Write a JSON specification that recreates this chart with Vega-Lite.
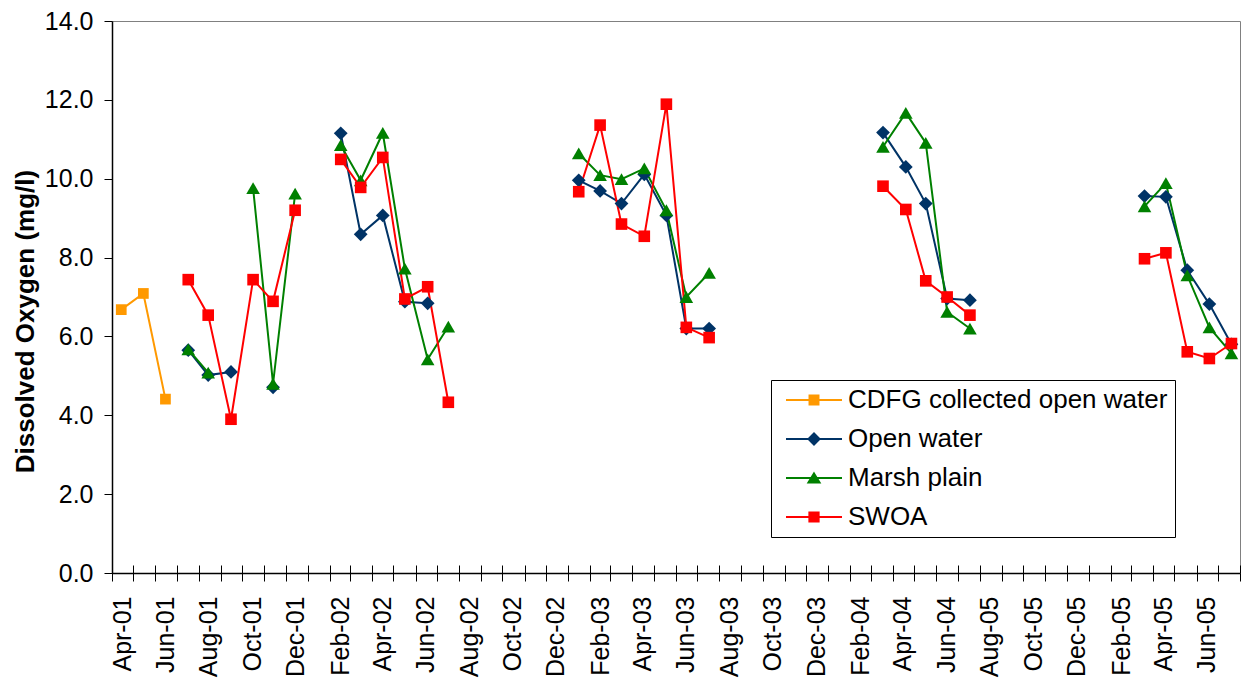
{
  "$schema": "https://vega.github.io/schema/vega-lite/v6.json",
  "width": 1128,
  "height": 552,
  "autosize": {"type": "none"},
  "padding": {"left": 112, "top": 21, "right": 6, "bottom": 106},
  "background": "white",
  "config": {
    "font": "Liberation Sans",
    "view": {"stroke": "#808080", "strokeWidth": 1}
  },
  "data": {
    "values": [
      {"date": "2001-04-14", "series": "CDFG collected open water", "value": 6.68},
      {"date": "2001-05-15", "series": "CDFG collected open water", "value": 7.09},
      {"date": "2001-06-15", "series": "CDFG collected open water", "value": 4.41},

      {"date": "2001-07-17", "series": "Open water", "value": 5.65},
      {"date": "2001-08-14", "series": "Open water", "value": 5.02},
      {"date": "2001-09-15", "series": "Open water", "value": 5.10},
      {"date": "2001-10-16", "series": "Open water", "value": null},
      {"date": "2001-11-13", "series": "Open water", "value": 4.71},
      {"date": "2002-01-15", "series": "Open water", "value": null},
      {"date": "2002-02-16", "series": "Open water", "value": 11.15},
      {"date": "2002-03-16", "series": "Open water", "value": 8.59},
      {"date": "2002-04-16", "series": "Open water", "value": 9.07},
      {"date": "2002-05-17", "series": "Open water", "value": 6.88},
      {"date": "2002-06-18", "series": "Open water", "value": 6.84},
      {"date": "2002-10-15", "series": "Open water", "value": null},
      {"date": "2003-01-16", "series": "Open water", "value": 9.96},
      {"date": "2003-02-15", "series": "Open water", "value": 9.69},
      {"date": "2003-03-17", "series": "Open water", "value": 9.37},
      {"date": "2003-04-18", "series": "Open water", "value": 10.11},
      {"date": "2003-05-19", "series": "Open water", "value": 9.07},
      {"date": "2003-06-16", "series": "Open water", "value": 6.20},
      {"date": "2003-07-18", "series": "Open water", "value": 6.20},
      {"date": "2003-12-15", "series": "Open water", "value": null},
      {"date": "2004-03-18", "series": "Open water", "value": 11.17},
      {"date": "2004-04-19", "series": "Open water", "value": 10.30},
      {"date": "2004-05-17", "series": "Open water", "value": 9.37},
      {"date": "2004-06-16", "series": "Open water", "value": 6.96},
      {"date": "2004-07-18", "series": "Open water", "value": 6.92},
      {"date": "2004-12-15", "series": "Open water", "value": null},
      {"date": "2005-03-20", "series": "Open water", "value": 9.56},
      {"date": "2005-04-19", "series": "Open water", "value": 9.54},
      {"date": "2005-05-19", "series": "Open water", "value": 7.68},
      {"date": "2005-06-19", "series": "Open water", "value": 6.82},
      {"date": "2005-07-20", "series": "Open water", "value": 5.80},

      {"date": "2001-07-17", "series": "Marsh plain", "value": 5.67},
      {"date": "2001-08-14", "series": "Marsh plain", "value": 5.08},
      {"date": "2001-09-15", "series": "Marsh plain", "value": null},
      {"date": "2001-10-16", "series": "Marsh plain", "value": 9.76},
      {"date": "2001-11-13", "series": "Marsh plain", "value": 4.80},
      {"date": "2001-12-14", "series": "Marsh plain", "value": 9.62},
      {"date": "2002-01-15", "series": "Marsh plain", "value": null},
      {"date": "2002-02-16", "series": "Marsh plain", "value": 10.85},
      {"date": "2002-03-16", "series": "Marsh plain", "value": 9.96},
      {"date": "2002-04-16", "series": "Marsh plain", "value": 11.16},
      {"date": "2002-05-17", "series": "Marsh plain", "value": 7.72},
      {"date": "2002-06-18", "series": "Marsh plain", "value": 5.42},
      {"date": "2002-07-17", "series": "Marsh plain", "value": 6.25},
      {"date": "2002-10-15", "series": "Marsh plain", "value": null},
      {"date": "2003-01-16", "series": "Marsh plain", "value": 10.64},
      {"date": "2003-02-15", "series": "Marsh plain", "value": 10.09},
      {"date": "2003-03-17", "series": "Marsh plain", "value": 9.99},
      {"date": "2003-04-18", "series": "Marsh plain", "value": 10.26},
      {"date": "2003-05-19", "series": "Marsh plain", "value": 9.20},
      {"date": "2003-06-16", "series": "Marsh plain", "value": 7.00},
      {"date": "2003-07-18", "series": "Marsh plain", "value": 7.61},
      {"date": "2003-12-15", "series": "Marsh plain", "value": null},
      {"date": "2004-03-18", "series": "Marsh plain", "value": 10.81},
      {"date": "2004-04-19", "series": "Marsh plain", "value": 11.67},
      {"date": "2004-05-17", "series": "Marsh plain", "value": 10.91},
      {"date": "2004-06-16", "series": "Marsh plain", "value": 6.62},
      {"date": "2004-07-18", "series": "Marsh plain", "value": 6.20},
      {"date": "2004-12-15", "series": "Marsh plain", "value": null},
      {"date": "2005-03-20", "series": "Marsh plain", "value": 9.30},
      {"date": "2005-04-19", "series": "Marsh plain", "value": 9.89},
      {"date": "2005-05-19", "series": "Marsh plain", "value": 7.55},
      {"date": "2005-06-19", "series": "Marsh plain", "value": 6.23},
      {"date": "2005-07-20", "series": "Marsh plain", "value": 5.57},

      {"date": "2001-07-17", "series": "SWOA", "value": 7.44},
      {"date": "2001-08-14", "series": "SWOA", "value": 6.54},
      {"date": "2001-09-15", "series": "SWOA", "value": 3.90},
      {"date": "2001-10-16", "series": "SWOA", "value": 7.44},
      {"date": "2001-11-13", "series": "SWOA", "value": 6.89},
      {"date": "2001-12-14", "series": "SWOA", "value": 9.20},
      {"date": "2002-01-15", "series": "SWOA", "value": null},
      {"date": "2002-02-16", "series": "SWOA", "value": 10.49},
      {"date": "2002-03-16", "series": "SWOA", "value": 9.78},
      {"date": "2002-04-16", "series": "SWOA", "value": 10.54},
      {"date": "2002-05-17", "series": "SWOA", "value": 6.95},
      {"date": "2002-06-18", "series": "SWOA", "value": 7.26},
      {"date": "2002-07-17", "series": "SWOA", "value": 4.33},
      {"date": "2002-10-15", "series": "SWOA", "value": null},
      {"date": "2003-01-16", "series": "SWOA", "value": 9.67},
      {"date": "2003-02-15", "series": "SWOA", "value": 11.36},
      {"date": "2003-03-17", "series": "SWOA", "value": 8.85},
      {"date": "2003-04-18", "series": "SWOA", "value": 8.54},
      {"date": "2003-05-19", "series": "SWOA", "value": 11.89},
      {"date": "2003-06-16", "series": "SWOA", "value": 6.23},
      {"date": "2003-07-18", "series": "SWOA", "value": 5.97},
      {"date": "2003-12-15", "series": "SWOA", "value": null},
      {"date": "2004-03-18", "series": "SWOA", "value": 9.81},
      {"date": "2004-04-19", "series": "SWOA", "value": 9.22},
      {"date": "2004-05-17", "series": "SWOA", "value": 7.41},
      {"date": "2004-06-16", "series": "SWOA", "value": 7.00},
      {"date": "2004-07-18", "series": "SWOA", "value": 6.54},
      {"date": "2004-12-15", "series": "SWOA", "value": null},
      {"date": "2005-03-20", "series": "SWOA", "value": 7.97},
      {"date": "2005-04-19", "series": "SWOA", "value": 8.12},
      {"date": "2005-05-19", "series": "SWOA", "value": 5.61},
      {"date": "2005-06-19", "series": "SWOA", "value": 5.44},
      {"date": "2005-07-20", "series": "SWOA", "value": 5.82}
    ]
  },
  "encoding": {
    "y": {
      "field": "value",
      "type": "quantitative",
      "scale": {"domain": [0, 14], "nice": false},
      "axis": {
        "title": "Dissolved Oxygen (mg/l)",
        "values": [0, 2, 4, 6, 8, 10, 12, 14],
        "format": ".1f",
        "grid": false,
        "labelFontSize": 25,
        "labelColor": "black",
        "labelPadding": 11,
        "tickSize": 8,
        "tickColor": "black",
        "domainColor": "black",
        "domainWidth": 1.5,
        "titleFontSize": 26,
        "titleFontWeight": "bold",
        "titleColor": "black",
        "titleAngle": 270,
        "titleAlign": "center",
        "titleBaseline": "middle",
        "titleX": -87,
        "titleY": 300
      }
    }
  },
  "layer": [
    {
      "transform": [{"filter": "datum.value > 100"}],
      "mark": {"type": "point", "filled": true, "opacity": 1, "size": 196, "strokeWidth": 2},
      "encoding": {
        "x": {
          "field": "date",
          "type": "temporal",
          "scale": {
            "type": "utc",
            "domain": [
              {"year": 2001, "month": 4, "date": 1, "utc": true},
              {"year": 2005, "month": 8, "date": 1, "utc": true}
            ],
            "nice": false
          },
          "axis": null
        },
        "fill": {
          "field": "series",
          "type": "nominal",
          "scale": {
            "domain": ["CDFG collected open water", "Open water", "Marsh plain", "SWOA"],
            "range": ["#FF9900", "#003366", "#008000", "#FF0000"]
          },
          "legend": {
            "orient": "none", "legendX": 659, "legendY": 359, "title": null,
            "padding": 7, "strokeColor": "black", "labelFontSize": 26, "labelColor": "black",
            "labelLimit": 600, "symbolSize": 196, "symbolStrokeWidth": 2,
            "symbolOffset": 23, "labelOffset": 21, "rowPadding": 13
          }
        },
        "stroke": {
          "field": "series",
          "type": "nominal",
          "scale": {
            "domain": ["CDFG collected open water", "Open water", "Marsh plain", "SWOA"],
            "range": ["#FF9900", "#003366", "#008000", "#FF0000"]
          },
          "legend": {
            "orient": "none", "legendX": 659, "legendY": 359, "title": null,
            "padding": 7, "strokeColor": "black", "labelFontSize": 26, "labelColor": "black",
            "labelLimit": 600, "symbolSize": 196, "symbolStrokeWidth": 2,
            "symbolOffset": 23, "labelOffset": 21, "rowPadding": 13
          }
        },
        "shape": {
          "field": "series",
          "type": "nominal",
          "scale": {
            "domain": ["CDFG collected open water", "Open water", "Marsh plain", "SWOA"],
            "range": [
              "M-4,0H4M-0.64,-0.64H0.64V0.64H-0.64Z",
              "M-4,0H4M-0.79,0L0,-0.79L0.79,0L0,0.79Z",
              "M-4,0H4M0,-0.64L0.79,0.64H-0.79Z",
              "M-4,0H4M-0.66,-0.66H0.66V0.66H-0.66Z"
            ]
          },
          "legend": {
            "orient": "none", "legendX": 659, "legendY": 359, "title": null,
            "padding": 7, "strokeColor": "black", "labelFontSize": 26, "labelColor": "black",
            "labelLimit": 600, "symbolSize": 196, "symbolStrokeWidth": 2,
            "symbolOffset": 23, "labelOffset": 21, "rowPadding": 13
          }
        }
      }
    },
    {
      "mark": {"type": "line", "strokeWidth": 2},
      "encoding": {
        "x": {
          "field": "date",
          "type": "temporal",
          "scale": {
            "type": "utc",
            "domain": [
              {"year": 2001, "month": 4, "date": 1, "utc": true},
              {"year": 2005, "month": 8, "date": 1, "utc": true}
            ],
            "nice": false
          },
          "axis": {
            "orient": "bottom",
            "title": null,
            "grid": false,
            "tickCount": {"interval": "month", "step": 1},
            "labelExpr": "(utcmonth(datum.value) % 2 == 1 && !(utcyear(datum.value) == 2005 && utcmonth(datum.value) == 7)) ? utcFormat(datum.value, '%b') + '-' + ((utcyear(datum.value) == 2004 && utcmonth(datum.value) >= 7) ? '05' : utcFormat(datum.value, '%y')) : ''",
            "labelAngle": -90,
            "labelAlign": "right",
            "labelBaseline": "middle",
            "labelOffset": 10,
            "labelPadding": 15,
            "labelFontSize": 25,
            "labelColor": "black",
            "labelOverlap": false,
            "labelFlush": false,
            "tickSize": 8,
            "tickColor": "black",
            "domainColor": "black",
            "domainWidth": 1.5
          }
        },
        "stroke": {
          "field": "series",
          "type": "nominal",
          "scale": {
            "domain": ["CDFG collected open water", "Open water", "Marsh plain", "SWOA"],
            "range": ["#FF9900", "#003366", "#008000", "#FF0000"]
          },
          "legend": {
            "orient": "none", "legendX": 659, "legendY": 359, "title": null,
            "padding": 7, "strokeColor": "black", "labelFontSize": 26, "labelColor": "black",
            "labelLimit": 600, "symbolSize": 196, "symbolStrokeWidth": 2,
            "symbolOffset": 23, "labelOffset": 21, "rowPadding": 13
          }
        }
      }
    },
    {
      "transform": [{"filter": "datum.series == 'CDFG collected open water'"}],
      "mark": {"type": "point", "filled": true, "opacity": 1, "shape": "square", "size": 115, "color": "#FF9900"},
      "encoding": {
        "x": {
          "field": "date",
          "type": "temporal",
          "scale": {
            "type": "utc",
            "domain": [
              {"year": 2001, "month": 4, "date": 1, "utc": true},
              {"year": 2005, "month": 8, "date": 1, "utc": true}
            ],
            "nice": false
          },
          "axis": {
            "orient": "bottom",
            "title": null,
            "labels": false,
            "domain": false,
            "grid": false,
            "tickCount": {"interval": "month", "step": 1},
            "tickSize": -8,
            "tickColor": "black"
          }
        }
      }
    },
    {
      "transform": [{"filter": "datum.series == 'Open water'"}],
      "mark": {"type": "point", "filled": true, "opacity": 1, "shape": "diamond", "size": 190, "color": "#003366"},
      "encoding": {
        "x": {"field": "date", "type": "temporal", "axis": null}
      }
    },
    {
      "transform": [{"filter": "datum.series == 'Marsh plain'"}],
      "mark": {"type": "point", "filled": true, "opacity": 1, "shape": "triangle-up", "size": 185, "color": "#008000"},
      "encoding": {
        "x": {"field": "date", "type": "temporal", "axis": null}
      }
    },
    {
      "transform": [{"filter": "datum.series == 'SWOA'"}],
      "mark": {"type": "point", "filled": true, "opacity": 1, "shape": "square", "size": 135, "color": "#FF0000"},
      "encoding": {
        "x": {"field": "date", "type": "temporal", "axis": null}
      }
    }
  ],
  "resolve": {"axis": {"x": "independent"}}
}
